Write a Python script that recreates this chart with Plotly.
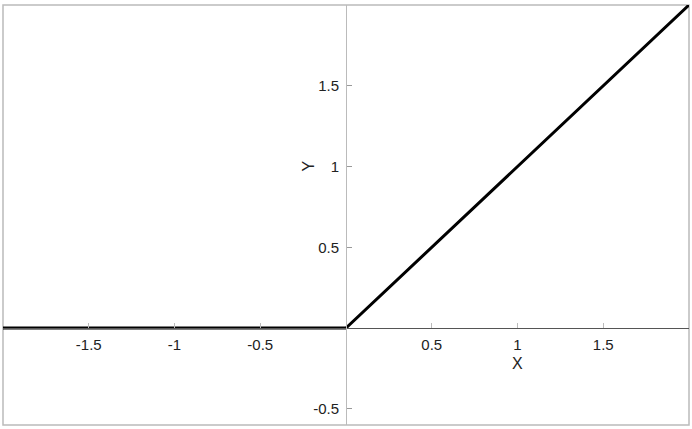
import plotly.graph_objects as go

# ReLU data
x_vals = [-2, 0, 2]
y_vals = [0, 0, 2]

x_tickvals = [-1.5, -1, -0.5, 0.5, 1, 1.5]
x_ticktext = ["-1.5", "-1", "-0.5", "0.5", "1", "1.5"]
y_tickvals = [-0.5, 0.5, 1, 1.5]
y_ticktext = ["-0.5", "0.5", "1", "1.5"]

x_range = [-2, 2]
y_range = [-0.6, 2.0]

font = dict(family="Liberation Sans, Arial, sans-serif", size=15, color="#222")

fig = go.Figure()
fig.add_trace(go.Scatter(x=x_vals, y=y_vals, mode="lines",
                         line=dict(color="black", width=3),
                         hoverinfo="skip", showlegend=False, cliponaxis=False))

ypos = (0 - x_range[0]) / (x_range[1] - x_range[0])
xpos = (0 - y_range[0]) / (y_range[1] - y_range[0])

fig.update_layout(
    width=692, height=429,
    margin=dict(l=3, r=3, t=5, b=4),
    paper_bgcolor="white", plot_bgcolor="white",
    font=font,
    xaxis=dict(range=x_range, showgrid=False, zeroline=False,
               anchor="free", position=xpos, automargin=False,
               showline=True, linecolor="#555", linewidth=1,
               ticks="inside", ticklen=5, tickcolor="#bbb", tickwidth=1,
               tickvals=x_tickvals, ticktext=x_ticktext, ticklabelstandoff=3,
               tickfont=font),
    yaxis=dict(range=y_range, showgrid=False, zeroline=False,
               anchor="free", position=ypos, automargin=False,
               showline=True, linecolor="#bbb", linewidth=1,
               ticks="inside", ticklen=5, tickcolor="#999", tickwidth=1,
               tickvals=y_tickvals, ticktext=y_ticktext, ticklabelstandoff=4,
               tickfont=font),
    shapes=[dict(type="rect", xref="paper", yref="paper", x0=0, y0=0, x1=1, y1=1,
                 line=dict(color="#bbb", width=1.5), layer="below")],
    annotations=[
        dict(text="X", x=1, y=0, xref="x", yref="y", showarrow=False,
             yshift=-35, font=dict(family=font["family"], size=16, color="#222")),
        dict(text="Y", x=0, y=1, xref="x", yref="y", showarrow=False,
             xshift=-37, textangle=-90,
             font=dict(family=font["family"], size=16, color="#222")),
    ],
)

fig.write_html("out.html", config={"displayModeBar": False},
               post_script="document.body.style.margin='0px';")
